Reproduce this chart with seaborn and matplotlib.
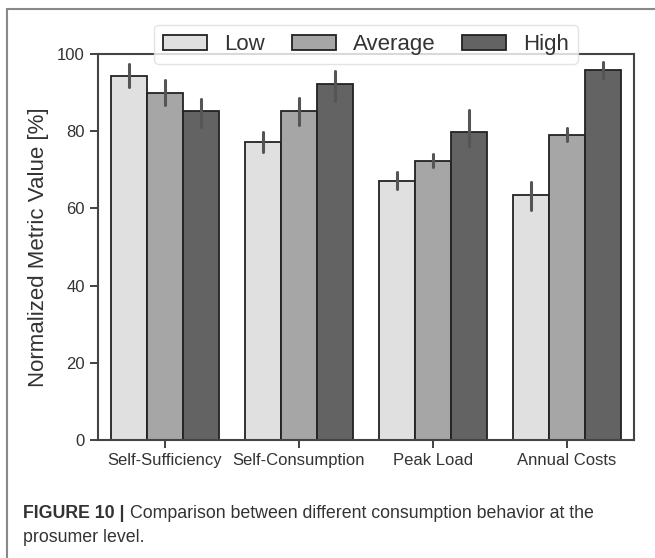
import numpy as np
import pandas as pd
import matplotlib
matplotlib.use("Agg")
import matplotlib.pyplot as plt
from matplotlib.patches import Rectangle
import seaborn as sns

# Data
metrics = ['Self-Sufficiency', 'Self-Consumption', 'Peak Load', 'Annual Costs']
levels = ['Low', 'Average', 'High']

# bar heights per level (same order as metrics)
low_val = [94.4, 77.3, 67.2, 63.5]
avg_val = [90.0, 85.2, 72.4, 79.1]
high_val = [85.2, 92.2, 79.9, 95.8]

# lower / upper ends of the error bars
low_lo = [91.4, 74.7, 65.0, 59.7]
low_hi = [97.3, 79.7, 69.4, 66.9]
avg_lo = [86.7, 81.6, 70.8, 77.4]
avg_hi = [93.3, 88.7, 74.0, 80.9]
high_lo = [81.0, 87.8, 76.2, 93.8]
high_hi = [88.4, 95.7, 85.4, 97.8]

colors = ['#e0e0e0', '#a6a6a6', '#636363']

# Build long table: three rows per bar (lo, value, hi) -> median = value, min/max = error bar
rows = []
for lev, vals, los, his in [('Low', low_val, low_lo, low_hi),
                            ('Average', avg_val, avg_lo, avg_hi),
                            ('High', high_val, high_lo, high_hi)]:
    for m, v, lo, hi in zip(metrics, vals, los, his):
        for x in (lo, v, hi):
            rows.append({'metric': m, 'level': lev, 'value': x})
df = pd.DataFrame(rows)

sns.set_style("ticks")
plt.rcParams['font.family'] = ['Liberation Sans', 'DejaVu Sans']

fig = plt.figure(figsize=(6.55, 5.58), dpi=100)
ax = fig.add_axes([98 / 655, 1 - 440 / 558, 536 / 655, 386 / 558])

sns.barplot(data=df, x='metric', y='value', hue='level', order=metrics, hue_order=levels,
            palette=colors, estimator='median', errorbar=('pi', 100),
            edgecolor='#222222', linewidth=1.3,
            err_kws={'color': '#555555', 'linewidth': 2.2}, ax=ax)

ax.set_ylim(0, 100)
ax.set_yticks([0, 20, 40, 60, 80, 100])
ax.set_xlabel('')
ax.set_ylabel('Normalized Metric Value [%]', fontsize=16, color='#333333', labelpad=6)
ax.tick_params(axis='both', labelsize=12, colors='#333333', length=6, width=1.3)
for s in ax.spines.values():
    s.set_visible(True)
    s.set_color('#444444')
    s.set_linewidth(1.5)

leg = ax.legend(loc='upper center', bbox_to_anchor=(0.5, 1.075), ncol=3, fontsize=16,
                frameon=True, fancybox=True, handlelength=2.0, handleheight=0.65,
                handletextpad=0.75, columnspacing=1.2, borderpad=0.4, borderaxespad=0)
leg.get_frame().set_edgecolor('#dddddd')
leg.get_frame().set_linewidth(1.0)
for t in leg.get_texts():
    t.set_color('#333333')

# outer border of the figure panel
fig.patches.append(Rectangle((7 / 655, -0.05), 1.1, 1 - 9 / 558 + 0.05,
                             transform=fig.transFigure, fill=False,
                             edgecolor='#888888', linewidth=1.5))

# caption
t1 = fig.text(23 / 655, 1 - 513 / 558, 'FIGURE 10 |', fontsize=12.8, fontweight='bold',
              color='#333333', va='center')
fig.canvas.draw()
bb = t1.get_window_extent(renderer=fig.canvas.get_renderer())
fig.text((bb.x1 + 5) / 655, 1 - 513 / 558,
         'Comparison between different consumption behavior at the',
         fontsize=12.8, color='#333333', va='center')
fig.text(23 / 655, 1 - 538 / 558, 'prosumer level.', fontsize=12.8, color='#333333', va='center')

fig.savefig('out.png', dpi=100)
